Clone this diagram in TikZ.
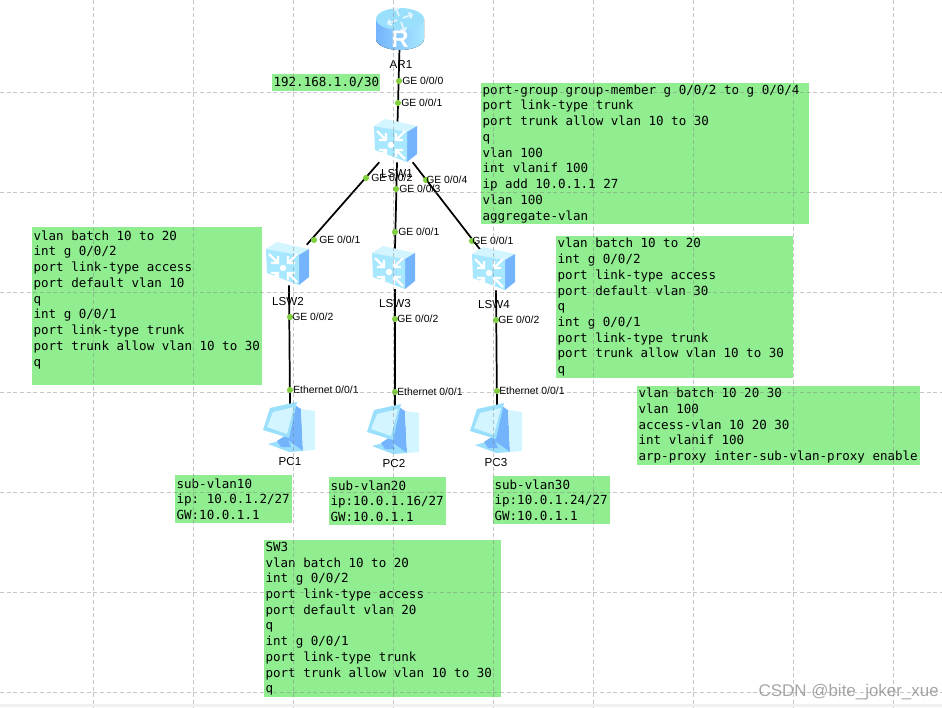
\documentclass[tikz,border=0pt]{standalone}
\usepackage{fontspec}
\setmainfont{Liberation Sans}
\newfontfamily\cfgfont{DejaVu Sans Mono}
\usepackage{xcolor}
\usepackage{tikz}
\usetikzlibrary{positioning}
\definecolor{cfggreen}{HTML}{90EE90}
\definecolor{portgreen}{HTML}{80D040}
\definecolor{iconlight}{HTML}{A8E8FF}
\definecolor{icontop}{HTML}{D2F5FF}
\definecolor{iconmid}{HTML}{9ADFFC}
\definecolor{icondark}{HTML}{74B4FC}
\tikzset{
  cfgbox/.style={fill=cfggreen,anchor=north west,inner xsep=1pt,inner ysep=0pt,
    align=flush left,font=\cfgfont\fontsize{9.4}{11.8}\selectfont\frenchspacing},
  devbox/.style={minimum width=33pt,minimum height=30pt,inner sep=0pt},
  devlab/.style={inner sep=0pt,font=\fontsize{8.7}{10}\selectfont},
  portdot/.style={circle,fill=portgreen,inner sep=0pt,minimum size=4.6pt},
  portlab/.style={anchor=west,inner sep=0pt,font=\fontsize{7.8}{9}\selectfont},
  link/.style={line width=1.3pt,black},
  routerpic/.pic={
    \fill[left color=icondark,right color=iconlight]
      (-24,-10) -- (-24,10) arc[start angle=180,end angle=0,x radius=24,y radius=11]
      -- (24,-10) -- cycle;
    \fill[iconmid] (0,-10) ellipse[x radius=24,y radius=11];
    \foreach \a in {20,110,200,290}
      \draw[white,line width=1.3pt,opacity=.75,rotate around={\a:(0,-10)}]
        (3,-10) -- (13,-10) (13,-10) -- (10,-13) (13,-10) -- (10,-7);
    \node[white,inner sep=0pt,font=\bfseries\fontsize{18}{18}\selectfont] at (0,10) {R};
  },
  switchpic/.pic={
    \fill[icontop] (-22,-16) -- (-11,-23) -- (21,-16) -- (11,-10) -- cycle;
    \fill[icondark] (11,-10) -- (21,-16) -- (21,12) -- (11,20) -- cycle;
    \fill[iconlight] (-22,-16) -- (11,-10) -- (11,20) -- (-21,8) -- cycle;
    \fill[white] (-5,3) circle[radius=3.2];
    \foreach \dx/\dy in {-1/-1,1/-1,-1/1,1/1}
      \draw[white,line width=1.6pt,shift={(-5,3)}]
        (\dx*14,\dy*14) -- (\dx*5,\dy*5)
        (\dx*5,\dy*12) -- (\dx*5,\dy*5) -- (\dx*12,\dy*5);
  },
  pcpic/.pic={
    \fill[icondark] (6,-22) -- (12,-18) -- (14,24) -- (-4,16) -- cycle;
    \fill[icontop] (12,-18) -- (26,-16) -- (26,23) -- (14,24) -- cycle;
    \fill[iconmid] (-21,17) -- (-3,12) -- (14,24) -- (0,25) -- cycle;
    \fill[icondark] (-12,14) -- (-3,8) -- (2,20) -- (-8,20) -- cycle;
    \fill[iconmid] (-19,-19) -- (8,-25) -- (0,11) -- (-26,3) -- cycle;
    \fill[icontop] (-16,-15) -- (5,-20) -- (-2,7) -- (-22,0) -- cycle;
  }
}
\begin{document}
\begin{tikzpicture}[x=0.75pt,y=-0.75pt]
  \useasboundingbox (0,0) rectangle (942,707);
  \fill[black!6] (0,704) rectangle (942,707);
  % config notes
  \node[cfgbox,text width=79pt,minimum height=12.75pt] (ipnote) at (272,74) {192.168.1.0/30};
  \node[cfgbox,text width=244pt,minimum height=105.75pt] (lsw1note) at (481,83)
    {port-group group-member g 0/0/2 to g 0/0/4\\port link-type trunk\\port trunk allow vlan 10 to 30\\q\\vlan 100\\int vlanif 100\\ip add 10.0.1.1 27\\vlan 100\\aggregate-vlan};
  \node[cfgbox,text width=170.5pt,minimum height=118.5pt] (lsw2note) at (32,227)
    {vlan batch 10 to 20\\int g 0/0/2\\port link-type access\\port default vlan 10\\q\\int g 0/0/1\\port link-type trunk\\port trunk allow vlan 10 to 30\\q\\\mbox{}};
  \node[cfgbox,text width=175.75pt,minimum height=106.5pt] (lsw4note) at (556,236)
    {vlan batch 10 to 20\\int g 0/0/2\\port link-type access\\port default vlan 30\\q\\int g 0/0/1\\port link-type trunk\\port trunk allow vlan 10 to 30\\q};
  \node[cfgbox,text width=210.25pt,minimum height=59.25pt] (proxynote) at (637,386)
    {vlan batch 10 20 30\\vlan 100\\access-vlan 10 20 30\\int vlanif 100\\arp-proxy inter-sub-vlan-proxy enable};
  \node[cfgbox,text width=85.75pt,minimum height=36pt] (pc1note) at (175,475)
    {sub-vlan10\\ip: 10.0.1.2/27\\GW:10.0.1.1};
  \node[cfgbox,text width=85.75pt,minimum height=36pt] (pc2note) at (329,477)
    {sub-vlan20\\ip:10.0.1.16/27\\GW:10.0.1.1};
  \node[cfgbox,text width=85.75pt,minimum height=36pt] (pc3note) at (493,476)
    {sub-vlan30\\ip:10.0.1.24/27\\GW:10.0.1.1};
  \node[cfgbox,text width=175.75pt,minimum height=117.75pt] (sw3note) at (264,540)
    {SW3\\vlan batch 10 to 20\\int g 0/0/2\\port link-type access\\port default vlan 20\\q\\int g 0/0/1\\port link-type trunk\\port trunk allow vlan 10 to 30\\q};
  % devices
  \node[devbox] (ar1) at (400,29) {};
  \node[devbox] (lsw1) at (397,142) {};
  \node[devbox] (lsw2) at (289,265) {};
  \node[devbox] (lsw3) at (395,269) {};
  \node[devbox] (lsw4) at (496,270) {};
  \node[devbox] (pc1) at (290,427) {};
  \node[devbox] (pc2) at (395,429) {};
  \node[devbox] (pc3) at (497,428) {};
  \draw[link] (ar1) -- (lsw1);
  \draw[link] (lsw1) -- (lsw2);
  \draw[link] (lsw1.south) -- (lsw3.north);
  \draw[link] (lsw1) -- (lsw4);
  \draw[link] (lsw2.south) -- (pc1.north);
  \draw[link] (lsw3.south) -- (pc2.north);
  \draw[link] (lsw4.south) -- (pc3.north);
  \pic at (400,29) {routerpic};
  \pic at (396,142) {switchpic};
  \pic at (288,265) {switchpic};
  \pic at (394,269) {switchpic};
  \pic at (494,270) {switchpic};
  \pic at (289,427) {pcpic};
  \pic at (393,429) {pcpic};
  \pic at (496,428) {pcpic};
  \node[devlab] (ar1lab) at (401,65) {AR1};
  \node[devlab] (lsw1lab) at (397,174) {LSW1};
  \node[devlab] (lsw2lab) at (288,302) {LSW2};
  \node[devlab] (lsw3lab) at (395,304) {LSW3};
  \node[devlab] (lsw4lab) at (494,305) {LSW4};
  \node[devlab] (pc1lab) at (290,461) {PC1};
  \node[devlab] (pc2lab) at (394,463) {PC2};
  \node[devlab] (pc3lab) at (496,462) {PC3};
  % ports: dot x / dot y / text x / text
  \foreach \x/\y/\lx/\t [count=\n] in {
      399/81/402/{GE 0/0/0}, 398/103/401/{GE 0/0/1},
      366/178/371/{GE 0/0/2}, 396/189/399/{GE 0/0/3}, 426/180/426/{GE 0/0/4},
      314/240/319/{GE 0/0/1}, 395/232/398/{GE 0/0/1}, 472/241/472/{GE 0/0/1},
      290/317/292/{GE 0/0/2}, 395/319/397/{GE 0/0/2}, 496/320/498/{GE 0/0/2},
      290/390/293/{Ethernet 0/0/1}, 395/392/397/{Ethernet 0/0/1}, 497/391/499/{Ethernet 0/0/1}} {
    \node[portdot] (port\n) at (\x,\y) {};
    \node[portlab] (portlab\n) at (\lx,\y) {\t};
  }
  \node[anchor=east,inner sep=0pt,text=black!35,font=\fontsize{12.7}{14}\selectfont] (mark) at (939,692) {CSDN @bite\_joker\_xue};
  % canvas grid
  \foreach \x in {93,193,...,893}
    \draw[black!50,opacity=.45,densely dashed,line width=.5pt] (\x,0) -- (\x,707);
  \foreach \y in {92,192,...,692}
    \draw[black!50,opacity=.45,densely dashed,line width=.5pt] (0,\y) -- (942,\y);
\end{tikzpicture}
\end{document}
